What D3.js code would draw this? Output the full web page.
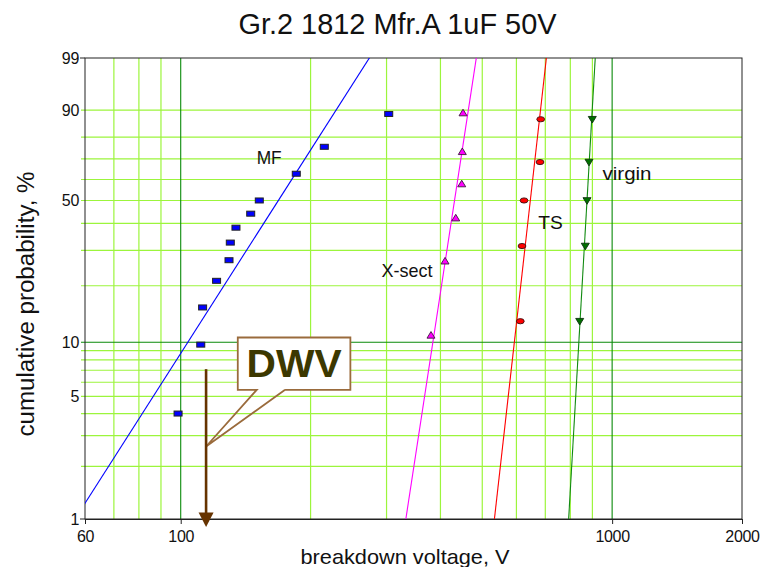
<!DOCTYPE html>
<html>
<head>
<meta charset="utf-8">
<script src="https://cdn.jsdelivr.net/npm/d3@7"></script>
<style>
  html, body { margin: 0; padding: 0; background: #fff; }
  svg { display: block; font-family: "Liberation Sans", Arial, sans-serif; }
</style>
</head>
<body>
<svg id="chart" width="763" height="567"></svg>
<script>
// ---- data: breakdown voltage (V) and cumulative failure probability (%) ----
const seriesNames = ["MF", "X-sect", "TS", "virgin"];

const mfVoltage = [98.6, 111.3, 112.4, 121.1, 129.4, 130.3, 134.3, 145.3, 152.1, 185.3, 215.2, 303.5];
const mfProb    = [4.0, 9.7, 15.4, 21.2, 26.9, 32.7, 38.3, 44.1, 50.0, 62.8, 75.7, 88.8];

const xsectVoltage = [380.3, 409.9, 434.0, 448.1, 449.5, 451.2];
const xsectProb    = [10.9, 26.6, 42.2, 57.8, 73.4, 89.1];

const tsVoltage = [612.6, 618.2, 624.9, 680.5, 683.0];
const tsProb    = [13.0, 31.5, 50.0, 68.5, 87.0];

const virginVoltage = [841.1, 866.6, 874.5, 883.8, 899.5];
const virginProb    = [13.0, 31.5, 50.0, 68.5, 87.0];

// Weibull fit per series: shape (beta) and scale (eta, V)
const fitShape = [3.9, 16.3, 22.1, 43.2];
const fitScale = [185, 441, 657, 882];

// axis ticks and grid
const xTickValues = [60, 100, 1000, 2000];
const yTickValues = [1, 5, 10, 50, 90, 99];
const xGridMinor = [70, 80, 90, 200, 300, 400, 500, 600, 700, 800, 900];
const xGridMajor = [100, 1000];
const yGridMinor = [2, 3, 4, 5, 6, 7, 8, 9, 20, 30, 40, 50, 60, 70, 80, 90];
const yGridMajor = [10];

// rated dielectric withstanding voltage marker
const dwvVoltage = 114.5;
const dwvLabel = "DWV";

// ---- layout ----
const plot = { left: 85, right: 742, top: 58, bottom: 519 };
const svg = d3.select("#chart");

const x = d3.scaleLog().domain([60, 2000]).range([plot.left, plot.right]);
const weibit = p => Math.log(-Math.log(1 - p / 100));
const yLin = d3.scaleLinear().domain([weibit(1), weibit(99)]).range([plot.bottom, plot.top]);
const y = p => yLin(weibit(p));

const lightGrid = "#9cf53c";
const darkGrid = "#0a8a0a";

// ---- grid ----
const grid = svg.append("g");
grid.selectAll("line.vmin").data(xGridMinor).join("line")
  .attr("x1", d => x(d)).attr("x2", d => x(d))
  .attr("y1", plot.top).attr("y2", plot.bottom)
  .attr("stroke", lightGrid).attr("stroke-width", 1.2);
grid.selectAll("line.hmin").data(yGridMinor).join("line")
  .attr("x1", plot.left - 4).attr("x2", plot.right)
  .attr("y1", d => y(d)).attr("y2", d => y(d))
  .attr("stroke", lightGrid).attr("stroke-width", 1.2);
grid.selectAll("line.vmaj").data(xGridMajor).join("line")
  .attr("x1", d => x(d)).attr("x2", d => x(d))
  .attr("y1", plot.top).attr("y2", plot.bottom)
  .attr("stroke", darkGrid).attr("stroke-width", 1.1);
grid.selectAll("line.hmaj").data(yGridMajor).join("line")
  .attr("x1", plot.left - 4).attr("x2", plot.right)
  .attr("y1", d => y(d)).attr("y2", d => y(d))
  .attr("stroke", darkGrid).attr("stroke-width", 1.1);

// ---- frame and axes ----
svg.append("rect")
  .attr("x", plot.left).attr("y", plot.top)
  .attr("width", plot.right - plot.left).attr("height", plot.bottom - plot.top)
  .attr("fill", "none").attr("stroke", "#222").attr("stroke-width", 1);

const xAxis = d3.axisBottom(x).tickValues(xTickValues).tickFormat(d3.format("d")).tickSize(5).tickPadding(6);
const gx = svg.append("g").attr("transform", `translate(0,${plot.bottom})`).call(xAxis);
gx.select(".domain").attr("stroke", "#222");
gx.selectAll(".tick line").attr("stroke", "#222");
gx.selectAll(".tick text")
  .attr("font-family", "Liberation Sans, Arial, sans-serif")
  .attr("font-size", 16).attr("fill", "#111").attr("letter-spacing", -0.3)
  .attr("dy", "0.72em");

const gy = svg.append("g");
gy.selectAll("line").data([1, 99]).join("line")
  .attr("x1", plot.left - 5).attr("x2", plot.left)
  .attr("y1", d => y(d)).attr("y2", d => y(d))
  .attr("stroke", "#222");
gy.selectAll("text").data(yTickValues).join("text")
  .attr("x", plot.left - 6).attr("y", d => y(d)).attr("dy", "0.37em")
  .attr("text-anchor", "end").attr("font-size", 16).attr("fill", "#111")
  .attr("letter-spacing", -0.3)
  .text(d => d);

// ---- fitted Weibull lines ----
svg.append("clipPath").attr("id", "plotClip")
  .append("rect").attr("x", plot.left).attr("y", plot.top)
  .attr("width", plot.right - plot.left).attr("height", plot.bottom - plot.top);

const lineColors = ["#0000ff", "#ff00ff", "#ff0000", "#118a11"];
const fitPath = (beta, eta) => {
  const ends = [weibit(0.5), weibit(99.9)];
  return d3.line()(ends.map(w => [x(eta * Math.exp(w / beta)), yLin(w)]));
};
const fits = svg.append("g").attr("clip-path", "url(#plotClip)");
seriesNames.forEach((name, i) => {
  fits.append("path")
    .attr("d", fitPath(fitShape[i], fitScale[i]))
    .attr("fill", "none").attr("stroke", lineColors[i]).attr("stroke-width", 1.1);
});

// ---- markers ----
const mk = svg.append("g");
mk.selectAll("rect.mf").data(d3.zip(mfVoltage, mfProb)).join("rect")
  .attr("x", d => x(d[0]) - 4).attr("y", d => y(d[1]) - 2.5)
  .attr("width", 8).attr("height", 5)
  .attr("fill", "#0000ff").attr("stroke", "#222").attr("stroke-width", 1);

mk.selectAll("path.xs").data(d3.zip(xsectVoltage, xsectProb)).join("path")
  .attr("transform", d => `translate(${x(d[0])},${y(d[1])})`)
  .attr("d", "M0,-3.8L4,2.8L-4,2.8Z")
  .attr("fill", "#ff00ff").attr("stroke", "#3a1a3a").attr("stroke-width", 0.9);

mk.selectAll("ellipse.ts").data(d3.zip(tsVoltage, tsProb)).join("ellipse")
  .attr("cx", d => x(d[0])).attr("cy", d => y(d[1]))
  .attr("rx", 3.9).attr("ry", 2.6)
  .attr("fill", "#ff0000").attr("stroke", "#3a1010").attr("stroke-width", 0.9);

mk.selectAll("path.vg").data(d3.zip(virginVoltage, virginProb)).join("path")
  .attr("transform", d => `translate(${x(d[0])},${y(d[1])})`)
  .attr("d", "M-4,-2.8L4,-2.8L0,3.8Z")
  .attr("fill", "#007000").attr("stroke", "#0c300c").attr("stroke-width", 0.9);

// ---- series labels ----
const seriesLabelPos = [[256.7, 164], [381.5, 277.3], [538.3, 229], [602.5, 180]];
const seriesLabelWidth = [25, 51, 24.5, 49];
svg.append("g").selectAll("text").data(seriesNames).join("text")
  .attr("x", (d, i) => seriesLabelPos[i][0]).attr("y", (d, i) => seriesLabelPos[i][1])
  .attr("font-size", 19).attr("fill", "#111")
  .attr("textLength", (d, i) => seriesLabelWidth[i]).attr("lengthAdjust", "spacingAndGlyphs")
  .text(d => d);

// ---- DWV callout and arrow ----
const ax = x(dwvVoltage);
const tipY = y(2.6);
const box = { l: ax + 31.7, r: ax + 144.3, t: tipY - 109, b: tipY - 56.7 };
const ann = svg.append("g");
ann.append("rect")
  .attr("x", box.l).attr("y", box.t)
  .attr("width", box.r - box.l).attr("height", box.b - box.t)
  .attr("fill", "#fff");
ann.append("path")
  .attr("d", `M${ax + 79},${box.b}L${box.r},${box.b}L${box.r},${box.t}L${box.l},${box.t}L${box.l},${box.b}L${ax + 50.7},${box.b}L${ax},${tipY}L${ax + 79},${box.b}`)
  .attr("fill", "none").attr("stroke", "#9a6b3c").attr("stroke-width", 1.8)
  .attr("stroke-linejoin", "miter");
ann.append("text")
  .attr("x", (box.l + box.r) / 2).attr("y", box.b - 12.3)
  .attr("text-anchor", "middle").attr("font-size", 39).attr("font-weight", "bold")
  .attr("fill", "#3c3800").attr("textLength", 95).attr("lengthAdjust", "spacingAndGlyphs")
  .text(dwvLabel);

const arrowTop = y(7.1);
const arrowTip = plot.bottom + 8;
ann.append("line")
  .attr("x1", ax).attr("x2", ax).attr("y1", arrowTop).attr("y2", arrowTip - 13)
  .attr("stroke", "#663300").attr("stroke-width", 2.6);
ann.append("path")
  .attr("d", `M${ax - 7.5},${arrowTip - 14.5}L${ax + 7.5},${arrowTip - 14.5}L${ax},${arrowTip}Z`)
  .attr("fill", "#663300");

// ---- titles ----
svg.append("text")
  .attr("x", 397.5).attr("y", 34.3).attr("text-anchor", "middle")
  .attr("font-size", 30).attr("fill", "#111")
  .attr("textLength", 318).attr("lengthAdjust", "spacingAndGlyphs")
  .text("Gr.2 1812 Mfr.A 1uF 50V");

svg.append("text")
  .attr("x", 405).attr("y", 564).attr("text-anchor", "middle")
  .attr("font-size", 21).attr("fill", "#111")
  .attr("textLength", 209).attr("lengthAdjust", "spacingAndGlyphs")
  .text("breakdown voltage, V");

svg.append("text")
  .attr("transform", "translate(33.5,304) rotate(-90)").attr("text-anchor", "middle")
  .attr("font-size", 23).attr("fill", "#111")
  .attr("textLength", 265).attr("lengthAdjust", "spacingAndGlyphs")
  .text("cumulative probability, %");
</script>
</body>
</html>
